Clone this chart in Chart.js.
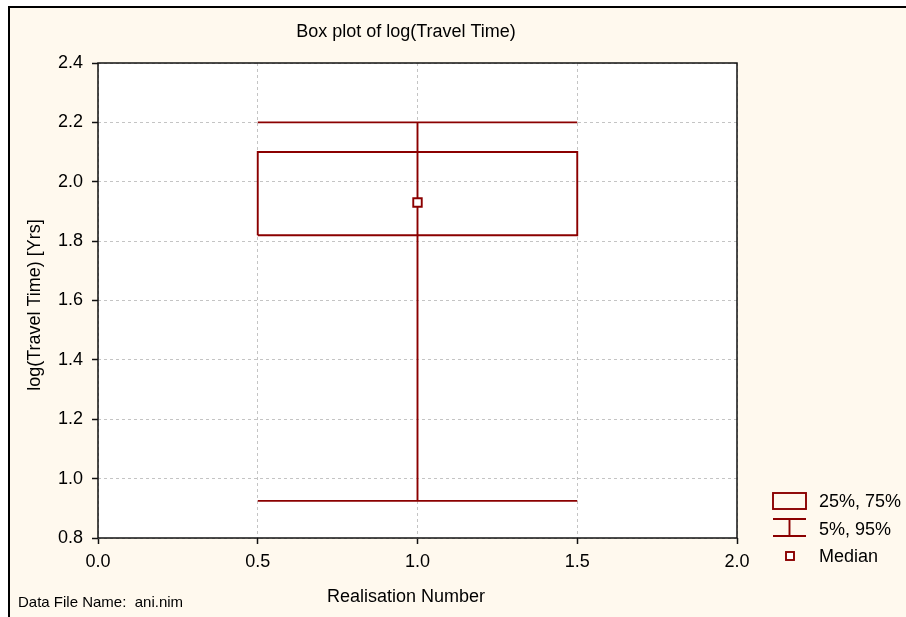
<!DOCTYPE html>
<html>
<head>
<meta charset="utf-8">
<title>Box plot of log(Travel Time)</title>
<script src="https://cdn.jsdelivr.net/npm/chart.js@4.4.1/dist/chart.umd.min.js"></script>
<style>
  html, body { margin: 0; padding: 0; background: #ffffff; }
  #wrap { width: 906px; height: 617px; }
  canvas { display: block; }
</style>
</head>
<body>
<div id="wrap"><canvas id="chart" width="906" height="617"></canvas></div>
<script>
// Realisation numbers and the percentiles of log(Travel Time) for each one
const realisations = [1];
const p5  = [0.925];
const p25 = [1.82];
const median = [1.93];
const p75 = [2.10];
const p95 = [2.20];

// Axis ticks
const xTicks = [0.0, 0.5, 1.0, 1.5, 2.0];
const yTicks = [0.8, 1.0, 1.2, 1.4, 1.6, 1.8, 2.0, 2.2, 2.4];

// Texts
const chartTitle = 'Box plot of log(Travel Time)';
const xTitle = 'Realisation Number';
const yTitle = 'log(Travel Time) [Yrs]';
const dataFileName = 'ani.nim';
const legendLabels = ['25%, 75%', '5%, 95%', 'Median'];

// Styling
const BOX_HALF = 0.5;
const RED = '#8b0000';
const CREAM = '#fff9ee';
const FONT = '"Liberation Sans", Arial, sans-serif';
const LINE_W = 1.9;

// Build the line segments of each box from the percentile arrays
const boxOutline = [], caps = [], stems = [], medians = [];
realisations.forEach((r, i) => {
  const l = r - BOX_HALF, h = r + BOX_HALF;
  boxOutline.push({x: l, y: p25[i]}, {x: h, y: p25[i]}, {x: h, y: p75[i]},
                  {x: l, y: p75[i]}, {x: l, y: p25[i]}, {x: null, y: null});
  caps.push({x: l, y: p95[i]}, {x: h, y: p95[i]}, {x: null, y: null},
            {x: l, y: p5[i]}, {x: h, y: p5[i]}, {x: null, y: null});
  stems.push({x: r, y: p5[i]}, {x: r, y: p95[i]}, {x: null, y: null});
  medians.push({x: r, y: median[i]});
});

const lineSet = (label, data, order) => ({
  label, data, order,
  showLine: true, spanGaps: false,
  borderColor: RED, borderWidth: LINE_W,
  pointRadius: 0, pointHoverRadius: 0, fill: false
});

const backdrop = {
  id: 'backdrop',
  beforeDraw(chart) {
    const {ctx, chartArea: a, width, height} = chart;
    ctx.save();
    ctx.fillStyle = '#ffffff';
    ctx.fillRect(0, 0, width, height);
    ctx.fillStyle = CREAM;
    ctx.fillRect(10, 8, width - 10, height - 8);
    ctx.fillStyle = '#000000';
    ctx.fillRect(8, 6, width - 8, 2);
    ctx.fillRect(8, 6, 2, height - 6);
    ctx.fillStyle = '#ffffff';
    ctx.fillRect(a.left, a.top, a.right - a.left, a.bottom - a.top);
    ctx.restore();
  },
  afterDraw(chart) {
    const {ctx, chartArea: a} = chart;
    ctx.save();
    // plot frame
    ctx.strokeStyle = '#111111';
    ctx.lineWidth = 1.5;
    ctx.strokeRect(a.left, a.top, a.right - a.left, a.bottom - a.top);

    // titles
    ctx.fillStyle = '#000000';
    ctx.font = '18px ' + FONT;
    ctx.textAlign = 'center';
    ctx.textBaseline = 'middle';
    ctx.fillText(chartTitle, 406, 32);
    ctx.fillText(xTitle, 406, 597);
    ctx.save();
    ctx.translate(35, 305);
    ctx.rotate(-Math.PI / 2);
    ctx.fillText(yTitle, 0, 0);
    ctx.restore();

    ctx.font = '15px ' + FONT;
    ctx.textAlign = 'left';
    ctx.fillText('Data File Name:  ' + dataFileName, 18, 603);

    // legend
    ctx.strokeStyle = RED;
    ctx.lineWidth = LINE_W;
    ctx.strokeRect(773, 493, 33, 16);
    ctx.beginPath();
    ctx.moveTo(773, 519); ctx.lineTo(806, 519);
    ctx.moveTo(773, 536); ctx.lineTo(806, 536);
    ctx.moveTo(789.5, 519); ctx.lineTo(789.5, 536);
    ctx.stroke();
    ctx.fillStyle = '#ffffff';
    ctx.fillRect(786, 552, 8, 8);
    ctx.strokeRect(786, 552, 8, 8);

    ctx.fillStyle = '#000000';
    ctx.font = '18px ' + FONT;
    ctx.textBaseline = 'middle';
    const ys = [502, 530, 557];
    legendLabels.forEach((t, i) => ctx.fillText(t, 819, ys[i]));
    ctx.restore();
  }
};

new Chart(document.getElementById('chart'), {
  type: 'scatter',
  data: {
    datasets: [
      {
        label: 'Median', data: medians, order: 0,
        pointStyle: 'rect', pointRadius: 6, pointHoverRadius: 6,
        pointBackgroundColor: '#ffffff', pointBorderColor: RED, pointBorderWidth: LINE_W,
        showLine: false
      },
      lineSet('5%, 95%', stems, 1),
      lineSet('5%, 95% caps', caps, 2),
      lineSet('25%, 75%', boxOutline, 3)
    ]
  },
  options: {
    responsive: false,
    devicePixelRatio: 1,
    animation: false,
    events: [],
    layout: { padding: { left: 0, top: 63, right: 169, bottom: 0 } },
    plugins: {
      legend: { display: false },
      title: { display: false },
      tooltip: { enabled: false }
    },
    scales: {
      x: {
        type: 'linear', min: 0, max: 2,
        afterBuildTicks: s => { s.ticks = xTicks.map(v => ({value: v})); },
        afterFit: s => { s.height = 79; },
        ticks: {
          callback: v => Number(v).toFixed(1),
          font: { family: FONT, size: 18 }, color: '#000000', padding: 7,
          maxRotation: 0
        },
        grid: { color: '#c4c4c4', lineWidth: 1, tickLength: 6, tickColor: '#111111', tickWidth: 1.5 },
        border: { display: false, dash: [3, 3] }
      },
      y: {
        type: 'linear', min: 0.8, max: 2.4,
        afterBuildTicks: s => { s.ticks = yTicks.map(v => ({value: v})); },
        afterFit: s => { s.width = 98; },
        ticks: {
          callback: v => Number(v).toFixed(1),
          font: { family: FONT, size: 18 }, color: '#000000', padding: 9
        },
        grid: { color: '#c4c4c4', lineWidth: 1, tickLength: 6, tickColor: '#111111', tickWidth: 1.5 },
        border: { display: false, dash: [3, 3] }
      }
    }
  },
  plugins: [backdrop]
});
</script>
</body>
</html>
